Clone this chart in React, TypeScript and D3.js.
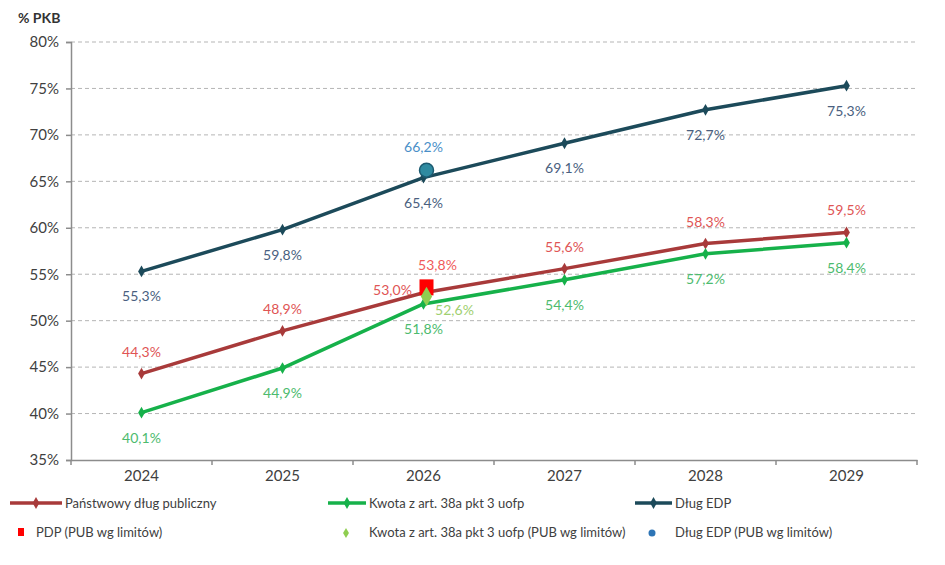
import { useEffect, useRef } from 'react';
import * as d3 from 'd3';

const years = ['2024', '2025', '2026', '2027', '2028', '2029'];
const pdp = [44.3, 48.9, 53.0, 55.6, 58.3, 59.5];
const kwota = [40.1, 44.9, 51.8, 54.4, 57.2, 58.4];
const edp = [55.3, 59.8, 65.4, 69.1, 72.7, 75.3];
const pdpLimit = { year: '2026', value: 53.8 };
const kwotaLimit = { year: '2026', value: 52.6 };
const edpLimit = { year: '2026', value: 66.2 };
const yTicks = [35, 40, 45, 50, 55, 60, 65, 70, 75, 80];

const fmt = (v: number) => v.toFixed(1).replace('.', ',') + '%';

export default function App() {
  const svgRef = useRef<SVGSVGElement>(null);

  useEffect(() => {
    if (!svgRef.current) return;
    const width = 945;
    const height = 565;
    const margin = { top: 42, right: 28, bottom: 105, left: 71 };
    const innerW = width - margin.left - margin.right;
    const innerH = height - margin.top - margin.bottom;
    const font = 'Lato, "Open Sans", sans-serif';

    const svg = d3.select(svgRef.current);
    svg.selectAll('*').remove();

    const g = svg.append('g').attr('transform', `translate(${margin.left},${margin.top})`);

    const x = d3.scaleBand().domain(years).range([0, innerW]);
    const cx = (d: string) => (x(d) as number) + x.bandwidth() / 2;
    const y = d3.scaleLinear().domain([35, 80]).range([innerH, 0]);

    // Grid
    g.append('g')
      .selectAll('line')
      .data(yTicks.slice(1))
      .enter()
      .append('line')
      .attr('x1', 0)
      .attr('x2', innerW)
      .attr('y1', d => y(d))
      .attr('y2', d => y(d))
      .attr('stroke', '#b5b5b5')
      .attr('stroke-width', 1)
      .attr('stroke-dasharray', '4,3');

    // Y axis
    g.append('g')
      .call(d3.axisLeft(y).tickValues(yTicks).tickSize(5).tickFormat(d => `${d}%`))
      .call(s => s.select('.domain').attr('stroke', '#8c8c8c').attr('stroke-width', 1.5))
      .call(s => s.selectAll('.tick line').attr('stroke', '#8c8c8c').attr('stroke-width', 1.5))
      .call(s => s.selectAll('.tick text').attr('fill', '#404040').attr('font-size', '15px').attr('font-family', font).attr('dx', '-4'));

    // X axis
    g.append('g')
      .attr('transform', `translate(0,${innerH})`)
      .call(d3.axisBottom(x).tickSize(0).tickPadding(10))
      .call(s => s.select('.domain').attr('stroke', '#8c8c8c').attr('stroke-width', 1.5))
      .call(s => s.selectAll('.tick text').attr('fill', '#404040').attr('font-size', '15px').attr('font-family', font));

    g.append('g')
      .selectAll('line')
      .data(d3.range(years.length + 1))
      .enter()
      .append('line')
      .attr('x1', i => i * x.step())
      .attr('x2', i => i * x.step())
      .attr('y1', innerH)
      .attr('y2', innerH + 5)
      .attr('stroke', '#8c8c8c')
      .attr('stroke-width', 1.5);

    // Title
    svg.append('text')
      .attr('x', 18)
      .attr('y', 23)
      .attr('font-family', font)
      .attr('font-size', '14px')
      .attr('font-weight', 'bold')
      .attr('fill', '#333')
      .text('% PKB');

    const diamond = d3.symbol().type(d3.symbolDiamond).size(40);

    const series = [
      { values: pdp, color: '#a83a3a' },
      { values: kwota, color: '#16b14a' },
      { values: edp, color: '#1c4a5a' },
    ];

    const line = d3.line<number>()
      .x((_, i) => cx(years[i]))
      .y(d => y(d));

    series.forEach(s => {
      g.append('path')
        .datum(s.values)
        .attr('d', line)
        .attr('fill', 'none')
        .attr('stroke', s.color)
        .attr('stroke-width', 3.5)
        .attr('stroke-linejoin', 'round');

      g.append('g')
        .selectAll('path')
        .data(s.values)
        .enter()
        .append('path')
        .attr('d', diamond)
        .attr('transform', (d, i) => `translate(${cx(years[i])},${y(d)})`)
        .attr('fill', s.color);
    });

    // Data labels
    const labels = (
      values: number[],
      color: string,
      dy: (i: number) => number,
      dx: (i: number) => number = () => 0,
    ) => {
      g.append('g')
        .selectAll('text')
        .data(values)
        .enter()
        .append('text')
        .attr('x', (d, i) => cx(years[i]) + dx(i))
        .attr('y', (d, i) => y(d) + dy(i))
        .attr('text-anchor', 'middle')
        .attr('font-family', font)
        .attr('font-size', '14px')
        .attr('fill', color)
        .text(d => fmt(d));
    };

    labels(pdp, '#e05555', i => (i === 2 ? 2 : -17), i => (i === 2 ? -31 : 0));
    labels(kwota, '#4dbb6e', () => 30);
    labels(edp, '#4a5f80', () => 30);

    // Limit points
    const sq = 14;
    g.append('rect')
      .attr('x', cx(pdpLimit.year) - sq / 2 + 3)
      .attr('y', y(pdpLimit.value) - sq / 2 + 1)
      .attr('width', sq)
      .attr('height', sq + 2)
      .attr('fill', '#ff0000');
    g.append('text')
      .attr('x', cx(pdpLimit.year) + 14)
      .attr('y', y(pdpLimit.value) - 15)
      .attr('text-anchor', 'middle')
      .attr('font-family', font)
      .attr('font-size', '14px')
      .attr('fill', '#f05a5a')
      .text(fmt(pdpLimit.value));

    g.append('path')
      .attr('d', d3.symbol().type(d3.symbolDiamond).size(110)())
      .attr('transform', `translate(${cx(kwotaLimit.year) + 3},${y(kwotaLimit.value)})`)
      .attr('fill', '#8fce50');
    g.append('text')
      .attr('x', cx(kwotaLimit.year) + 31)
      .attr('y', y(kwotaLimit.value) + 18)
      .attr('text-anchor', 'middle')
      .attr('font-family', font)
      .attr('font-size', '14px')
      .attr('fill', '#9fd070')
      .text(fmt(kwotaLimit.value));

    g.append('circle')
      .attr('cx', cx(edpLimit.year) + 3)
      .attr('cy', y(edpLimit.value))
      .attr('r', 7)
      .attr('fill', '#2f8aa0')
      .attr('stroke', '#1c5a70')
      .attr('stroke-width', 1.5);
    g.append('text')
      .attr('x', cx(edpLimit.year))
      .attr('y', y(edpLimit.value) - 18)
      .attr('text-anchor', 'middle')
      .attr('font-family', font)
      .attr('font-size', '14px')
      .attr('fill', '#4a8fc8')
      .text(fmt(edpLimit.value));

    // Legend
    const legend = svg.append('g').attr('font-family', font).attr('font-size', '13px').attr('fill', '#404040');
    const lineItems = [
      { x: 10, w: 52, color: '#a83a3a', text: 'Państwowy dług publiczny' },
      { x: 328, w: 38, color: '#16b14a', text: 'Kwota z art. 38a pkt 3 uofp' },
      { x: 635, w: 37, color: '#1c4a5a', text: 'Dług EDP' },
    ];
    lineItems.forEach(it => {
      legend.append('line')
        .attr('x1', it.x).attr('x2', it.x + it.w)
        .attr('y1', 503).attr('y2', 503)
        .attr('stroke', it.color).attr('stroke-width', 3.5);
      legend.append('path')
        .attr('d', diamond)
        .attr('transform', `translate(${it.x + it.w / 2},503)`)
        .attr('fill', it.color);
      legend.append('text').attr('x', it.x + it.w + 3).attr('y', 508).text(it.text);
    });

    legend.append('rect').attr('x', 18).attr('y', 528).attr('width', 6).attr('height', 8).attr('fill', '#ff0000');
    legend.append('text').attr('x', 36).attr('y', 537).text('PDP (PUB wg limitów)');
    legend.append('path')
      .attr('d', d3.symbol().type(d3.symbolDiamond).size(30)())
      .attr('transform', 'translate(346,533)')
      .attr('fill', '#8fce50');
    legend.append('text').attr('x', 369).attr('y', 537).text('Kwota z art. 38a pkt 3 uofp (PUB wg limitów)');
    legend.append('circle').attr('cx', 652).attr('cy', 533).attr('r', 3.5).attr('fill', '#2e75b6');
    legend.append('text').attr('x', 675).attr('y', 537).text('Dług EDP (PUB wg limitów)');
  }, []);

  return <svg ref={svgRef} width={945} height={565} style={{ display: 'block', margin: -8, background: '#fff' }} />;
}
